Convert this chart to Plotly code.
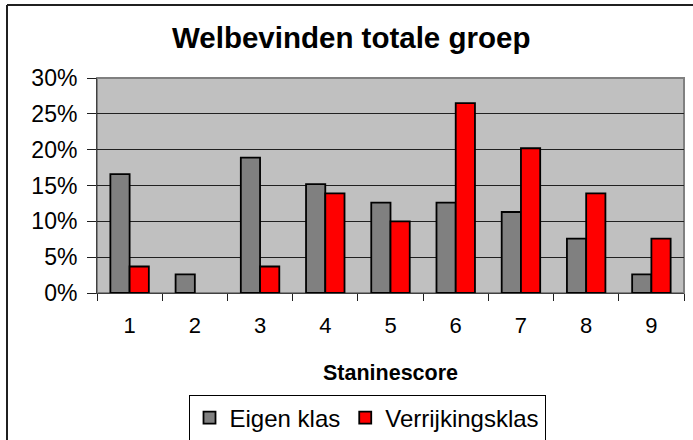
import plotly.graph_objects as go

categories = ["1", "2", "3", "4", "5", "6", "7", "8", "9"]
eigen_klas = [0.166, 0.026, 0.189, 0.152, 0.126, 0.126, 0.113, 0.076, 0.026]
# category 2 has no Verrijkingsklas bar (0%) -> None so no flat outline is drawn
verrijkingsklas = [0.037, None, 0.037, 0.139, 0.100, 0.265, 0.202, 0.139, 0.076]
y_ticks = [0, 0.05, 0.10, 0.15, 0.20, 0.25, 0.30]
y_tick_labels = ["0%", "5%", "10%", "15%", "20%", "25%", "30%"]

FONT = "Arial, Liberation Sans, sans-serif"

fig = go.Figure()
fig.add_trace(go.Bar(
    x=categories, y=eigen_klas, name="Eigen klas",
    marker=dict(color="#808080", line=dict(color="black", width=1.8)),
))
fig.add_trace(go.Bar(
    x=categories, y=verrijkingsklas, name="Verrijkingsklas",
    marker=dict(color="#FF0000", line=dict(color="black", width=1.8)),
))

W, H = 693, 470          # figure slightly taller than the 440px view; extra is clipped
L, R, T, B = 97, 684, 78, 293
pw, ph = R - L, B - T

def px(x):
    return (x - L) / pw

def py(y):
    return (B - y) / ph

fig.update_layout(
    template="none",
    width=W, height=H,
    margin=dict(l=L, r=W - R, t=T, b=H - B, pad=0),
    paper_bgcolor="white",
    plot_bgcolor="#C0C0C0",
    barmode="group",
    bargap=0.41,
    bargroupgap=0,
    font=dict(family=FONT, color="black"),
    showlegend=True,
    legend=dict(orientation="h", x=px(367), xanchor="center",
                y=py(418), yanchor="middle",
                font=dict(size=24, family=FONT),
                bordercolor="black", borderwidth=1, bgcolor="white",
                itemwidth=30, tracegroupgap=0),
    xaxis=dict(type="category", tickson="boundaries", ticks="outside", ticklen=7,
               tickcolor="#202020", showline=True, linecolor="#404040", linewidth=1,
               tickfont=dict(size=22, family=FONT), showgrid=False,
               automargin=False, ticklabelstandoff=13),
    yaxis=dict(range=[0, 0.30], tickvals=y_ticks, ticktext=y_tick_labels,
               ticks="outside", ticklen=9, tickcolor="#202020",
               showline=True, linecolor="#404040", linewidth=1,
               showgrid=True, gridcolor="#202020", gridwidth=1, zeroline=False,
               tickfont=dict(size=23, family=FONT),
               automargin=False, ticklabelstandoff=5),
)

# plot area border (top/right gray)
fig.add_shape(type="rect", xref="paper", yref="paper", x0=0, x1=1, y0=0, y1=1,
              line=dict(color="#808080", width=2), layer="below")
# outer chart frame: only the left and top edges are inside the view
fig.add_shape(type="line", xref="paper", yref="paper",
              x0=px(7), x1=px(7), y0=py(470), y1=py(5),
              line=dict(color="#202020", width=2))
fig.add_shape(type="line", xref="paper", yref="paper",
              x0=px(7), x1=px(693), y0=py(5), y1=py(5),
              line=dict(color="#202020", width=2))

fig.add_annotation(text="<b>Welbevinden totale groep</b>", xref="paper", yref="paper",
                   x=px(351), y=py(37), yanchor="middle", showarrow=False,
                   font=dict(size=29.5, family=FONT))
fig.add_annotation(text="<b>Staninescore</b>", xref="paper", yref="paper",
                   x=px(390), y=py(373), yanchor="middle", showarrow=False,
                   font=dict(size=21.5, family=FONT))

fig.write_html("out.html", config={"displayModeBar": False},
               post_script="document.body.style.margin='0px';"
                           "document.body.style.overflow='hidden';"
                           "document.documentElement.style.overflow='hidden';")
